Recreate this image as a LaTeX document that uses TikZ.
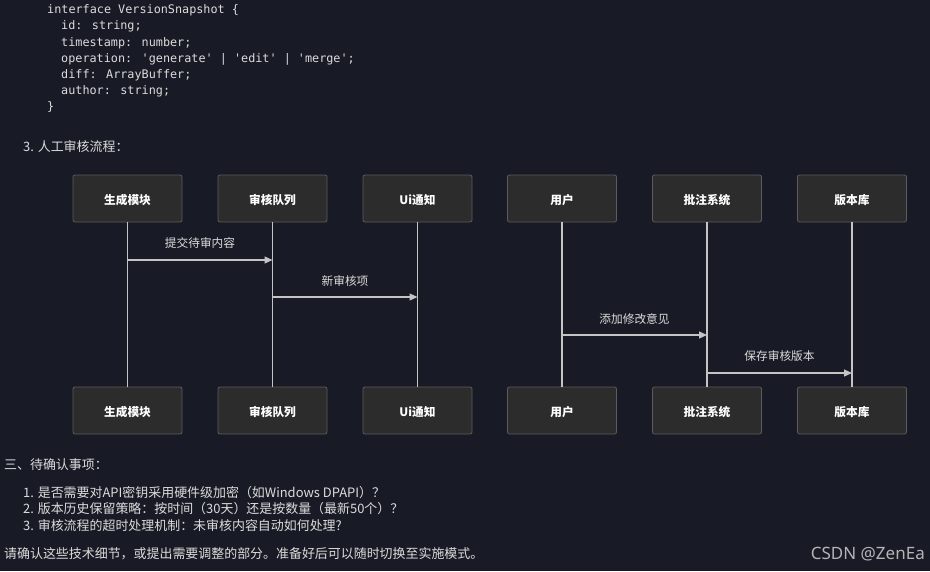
\documentclass[tikz,border=0pt]{standalone}
\usepackage{fontspec}
\setmainfont{Noto Sans CJK SC}
\newfontfamily\cjk{Noto Sans CJK SC}
\newfontfamily\codefont{DejaVu Sans Mono}
\newfontfamily\wmfont{Noto Sans}
\usetikzlibrary{arrows.meta}
\definecolor{bg}{HTML}{181B25}
\definecolor{boxfill}{HTML}{2C2C2C}
\definecolor{boxline}{HTML}{5C5C5C}
\definecolor{txt}{HTML}{DCDCDC}
\definecolor{lifec}{HTML}{C4C4C4}
\definecolor{wm}{HTML}{B4B4B4}
\tikzset{
  actor/.style={draw=boxline, line width=0.8pt, fill=boxfill, rounded corners=2pt,
    minimum width=109pt, minimum height=47pt, inner sep=0pt,
    text height=12.5pt, text depth=0.7pt,
    text=white, font=\cjk\fontsize{11.7}{14}\selectfont\bfseries},
  life/.style={draw=lifec, line width=1.3pt},
  msg/.style={draw=lifec, line width=1.2pt, -{Triangle[length=8pt,width=7pt]}},
  msglabel/.style={text=txt, inner sep=0pt, font=\cjk\fontsize{11.7}{14}\selectfont},
  codeline/.style={anchor=west, inner sep=0pt, text=txt, font=\codefont\fontsize{11.8}{14}\selectfont},
  bodytext/.style={anchor=west, inner sep=0pt, text=txt, font=\cjk\fontsize{12.95}{16}\selectfont}
}
\begin{document}
\begin{tikzpicture}[x=1pt,y=-1pt]
\fill[bg] (0,0) rectangle (930,571);
\useasboundingbox (0,0) rectangle (930,571);
% code
\node[codeline] (c1) at (47,10) {interface VersionSnapshot \{};
\node[codeline] (c2) at (61,26) {id: string;};
\node[codeline] (c3) at (61,43) {timestamp: number;};
\node[codeline] (c4) at (61,59) {operation: 'generate' | 'edit' | 'merge';};
\node[codeline] (c5) at (61,75) {diff: ArrayBuffer;};
\node[codeline] (c6) at (61,91) {author: string;};
\node[codeline] (c7) at (47,107) {\}};
\node[bodytext] (h3) at (23,147) {3. 人工审核流程：};
% actors top
\foreach \i/\x/\t in {1/127.5/生成模块, 2/272.5/审核队列, 3/417.5/Ui通知, 4/562/用户, 5/707/批注系统, 6/852/版本库}{
  \node[actor] (t\i) at (\x,198.5) {\t};
  \node[actor] (b\i) at (\x,410.5) {\t};
  \draw[life] (t\i.south) -- (b\i.north);
}
% messages
\coordinate (m1) at (0,260);
\coordinate (m2) at (0,297);
\coordinate (m3) at (0,335);
\coordinate (m4) at (0,373);
\draw[msg] (t1.south |- m1) -- (t2.south |- m1);
\draw[msg] (t2.south |- m2) -- (t3.south |- m2);
\draw[msg] (t4.south |- m3) -- (t5.south |- m3);
\draw[msg] (t5.south |- m4) -- (t6.south |- m4);
\node[msglabel] (l1) at (200,243) {提交待审内容};
\node[msglabel] (l2) at (345,281) {新审核项};
\node[msglabel] (l3) at (634.5,319) {添加修改意见};
\node[msglabel] (l4) at (779.5,356) {保存审核版本};
% bottom text
\node[bodytext] (s3) at (4,465) {三、待确认事项：};
\node[bodytext] (q1) at (23,493) {1. 是否需要对API密钥采用硬件级加密（如Windows DPAPI）？};
\node[bodytext] (q2) at (23,509) {2. 版本历史保留策略：按时间（30天）还是按数量（最新50个）？};
\node[bodytext] (q3) at (23,526) {3. 审核流程的超时处理机制：未审核内容自动如何处理?};
\node[bodytext] (fin) at (4,554) {请确认这些技术细节，或提出需要调整的部分。准备好后可以随时切换至实施模式。};
\node[anchor=east, inner sep=0pt, text=wm, font=\wmfont\fontsize{17}{20}\selectfont] (wmk) at (925,554) {CSDN @ZenEa};
\end{tikzpicture}
\end{document}
